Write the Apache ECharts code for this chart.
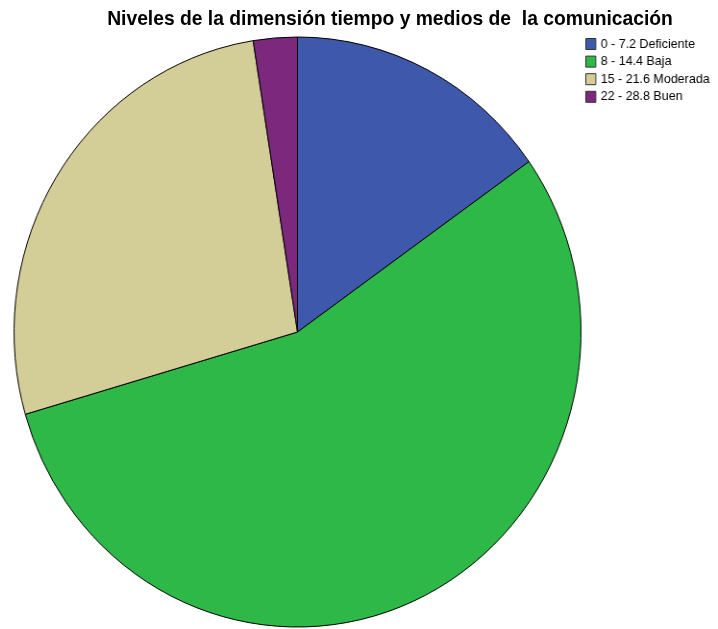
<!DOCTYPE html>
<html>
<head>
<meta charset="utf-8">
<script src="https://cdn.jsdelivr.net/npm/echarts@6/dist/echarts.min.js"></script>
<style>
  html, body { margin: 0; padding: 0; background: #fff; overflow: hidden; }
  .capa { position: absolute; left: 0; top: 0; width: 718px; height: 629px; }
  /* el pastel del original esta un poco achatado en horizontal */
  #pastel { width: 760px; transform: scaleX(0.961); transform-origin: 297.5px 332px; }
</style>
</head>
<body>
<div id="titulo" class="capa"></div>
<div id="pastel" class="capa"></div>
<script>
// categorias y porcentajes
var categorias = ['0 - 7.2 Deficiente', '8 - 14.4 Baja', '15 - 21.6 Moderada', '22 - 28.8 Buen'];
var porcentajes = [15.2, 55.3, 27.0, 2.5];
var colores = ['#3e58ac', '#2eb848', '#d3ce97', '#7c287d'];

var chartTitulo = echarts.init(document.getElementById('titulo'));
chartTitulo.setOption({
  animation: false,
  title: {
    text: 'Niveles de la dimensión tiempo y medios de  la comunicación',
    left: 385,
    textAlign: 'center',
    top: 5,
    textStyle: { fontFamily: 'Liberation Sans, Arial', fontWeight: 'bold', fontSize: 19.3, color: '#000' }
  }
});

var chart = echarts.init(document.getElementById('pastel'));
var datos = categorias.map(function (c, i) {
  return { name: c, value: porcentajes[i], itemStyle: { color: colores[i] } };
});

var option = {
  animation: false,
  legend: {
    orient: 'vertical',
    left: 592,
    top: 32,
    itemWidth: 10.4,
    itemHeight: 11,
    itemGap: 3.6,
    icon: 'rect',
    itemStyle: { borderColor: '#333', borderWidth: 1 },
    textStyle: { fontFamily: 'Liberation Sans, Arial', fontSize: 13, lineHeight: 14, color: '#000', padding: [0, 0, 0, 0] },
    data: categorias
  },
  series: [{
    type: 'pie',
    center: [297.5, 332],
    radius: 295,
    startAngle: 90,
    clockwise: true,
    label: { show: false },
    labelLine: { show: false },
    emphasis: { disabled: true },
    itemStyle: { borderColor: '#000', borderWidth: 1 },
    data: datos
  }]
};
chart.setOption(option);
</script>
</body>
</html>
